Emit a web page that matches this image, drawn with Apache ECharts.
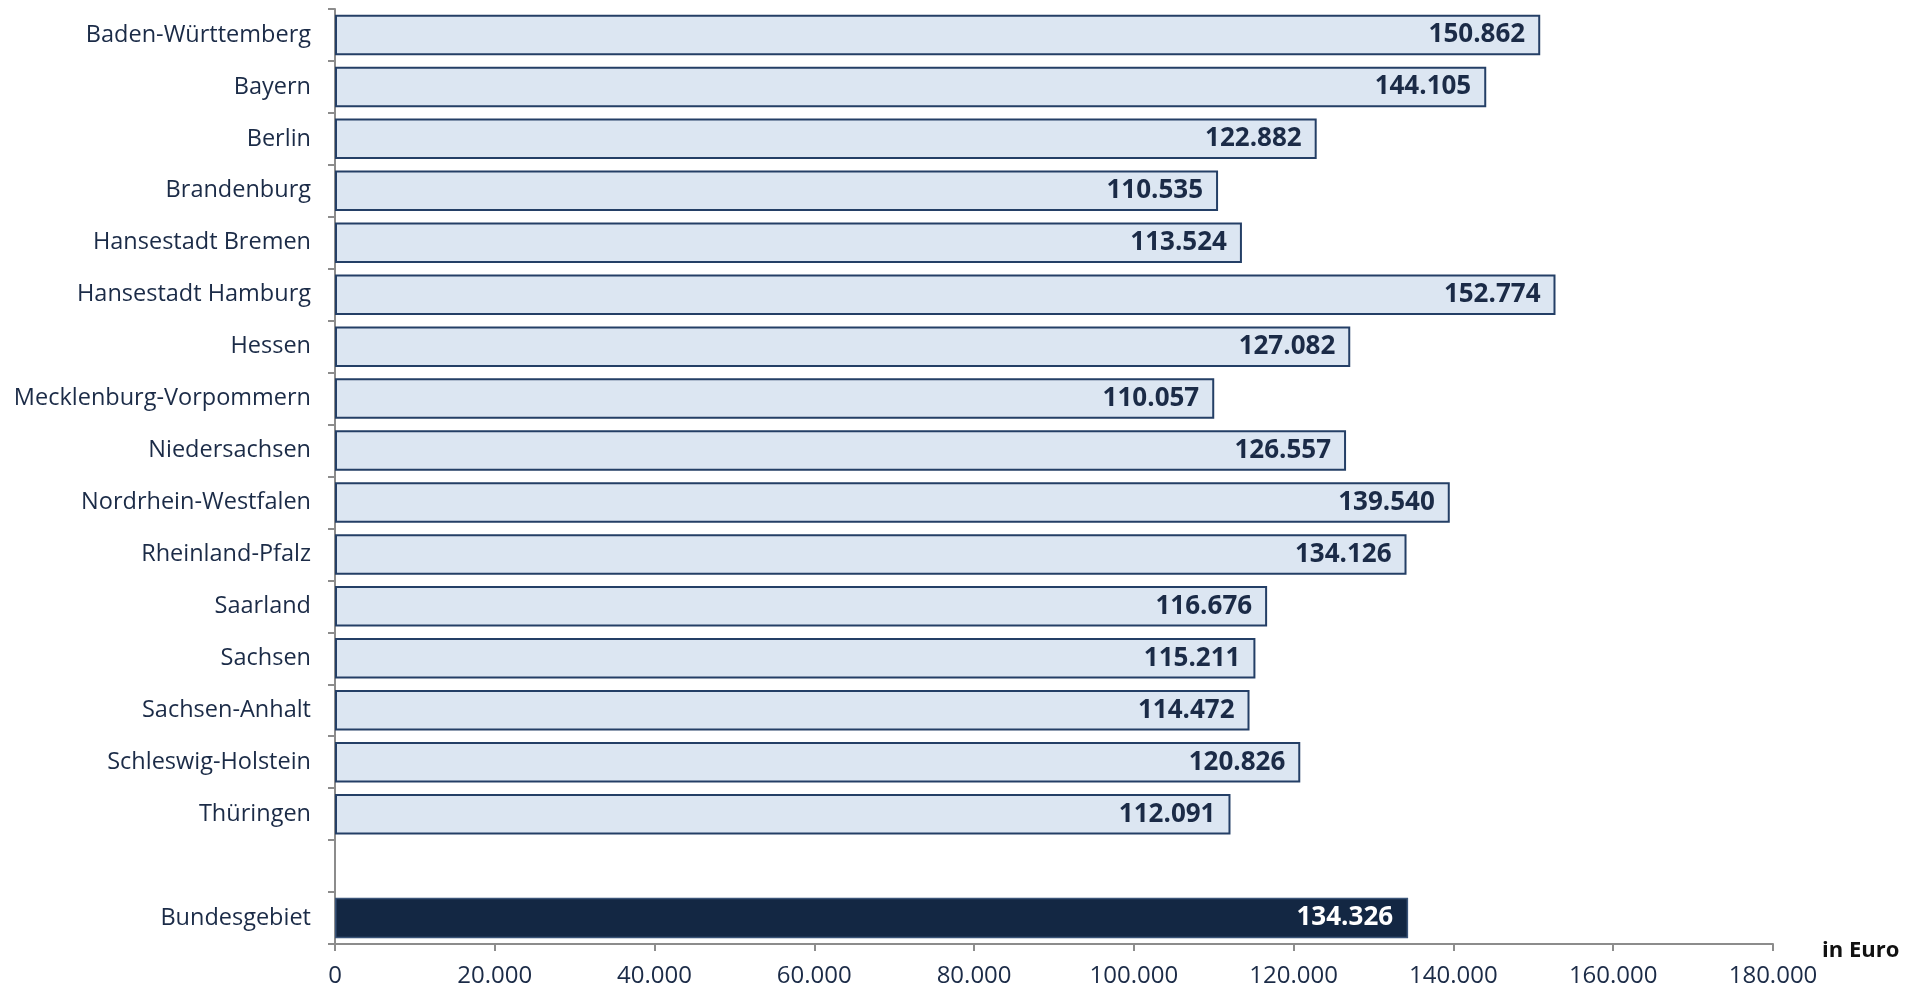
<!DOCTYPE html>
<html>
<head>
<meta charset="utf-8">
<script src="https://cdn.jsdelivr.net/npm/echarts@6/dist/echarts.min.js"></script>
<style>
  html, body { margin: 0; padding: 0; background: #fff; }
  #chart { width: 1917px; height: 992px; }
</style>
</head>
<body>
<div id="chart"></div>
<script>
// Bundesländer + Leerzeile + Bundesgebiet
const categories = [
  'Baden-Württemberg', 'Bayern', 'Berlin', 'Brandenburg', 'Hansestadt Bremen',
  'Hansestadt Hamburg', 'Hessen', 'Mecklenburg-Vorpommern', 'Niedersachsen',
  'Nordrhein-Westfalen', 'Rheinland-Pfalz', 'Saarland', 'Sachsen', 'Sachsen-Anhalt',
  'Schleswig-Holstein', 'Thüringen', '', 'Bundesgebiet'
];
const values = [
  150862, 144105, 122882, 110535, 113524,
  152774, 127082, 110057, 126557,
  139540, 134126, 116676, 115211, 114472,
  120826, 112091, null, 134326
];
const totalName = 'Bundesgebiet';
const xTicks = { min: 0, max: 180000, interval: 20000 };

// Tausenderpunkt wie im Original: 150862 -> 150.862
const fmt = (v) => String(Math.round(v)).replace(/\B(?=(\d{3})+(?!\d))/g, '.');

const TEXT = '#1b2b47';
const BAR_FILL = '#dce6f2';
const BAR_BORDER = '#243f66';
const TOTAL_FILL = '#132743';

const seriesData = values.map((v, i) => {
  if (categories[i] !== totalName) return v;
  return {
    value: v,
    itemStyle: { color: TOTAL_FILL, borderColor: '#3a5478', borderWidth: 1.5 },
    label: { color: '#ffffff' },
  };
});

const chart = echarts.init(document.getElementById('chart'));
chart.setOption({
  animation: false,
  grid: { left: 335, right: 144, top: 9, bottom: 48 },
  xAxis: {
    type: 'value',
    min: xTicks.min,
    max: xTicks.max,
    interval: xTicks.interval,
    name: 'in Euro',
    nameLocation: 'end',
    nameGap: 49,
    nameTextStyle: { fontFamily: 'Open Sans', fontWeight: 'bold', fontSize: 22, color: '#111', verticalAlign: 'top', padding: [-4, 0, 0, 0] },
    splitLine: { show: false },
    axisLine: { show: true, lineStyle: { color: '#8c8c8c', width: 2 } },
    axisTick: { show: true, length: 7, lineStyle: { color: '#8c8c8c', width: 2 } },
    axisLabel: {
      formatter: (v) => fmt(v),
      fontFamily: 'Open Sans',
      fontSize: 24,
      color: TEXT,
      margin: 20,
    },
  },
  yAxis: {
    type: 'category',
    data: categories,
    inverse: true,
    axisLine: { show: true, lineStyle: { color: '#8c8c8c', width: 2 } },
    axisTick: { show: true, length: 7, lineStyle: { color: '#8c8c8c', width: 2 } },
    axisLabel: {
      fontFamily: 'Open Sans',
      fontSize: 23.5,
      color: TEXT,
      margin: 24,
    },
  },
  series: [{
    type: 'bar',
    data: seriesData,
    barCategoryGap: '22%',
    itemStyle: { color: BAR_FILL, borderColor: BAR_BORDER, borderWidth: 2 },
    label: {
      show: true,
      position: 'insideRight',
      distance: 15,
      formatter: (p) => fmt(p.value),
      fontFamily: 'Open Sans',
      fontWeight: 'bold',
      fontSize: 26,
      color: TEXT,
    },
  }],
});
</script>
</body>
</html>
